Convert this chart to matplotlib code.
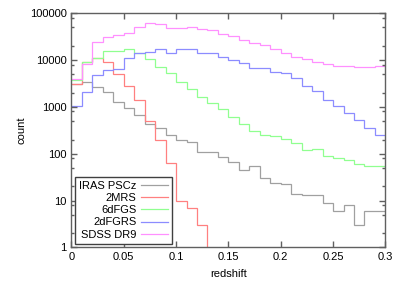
import numpy as np
import matplotlib
matplotlib.use('Agg')
import matplotlib.pyplot as plt
from matplotlib.ticker import LogLocator, FixedLocator, NullFormatter

plt.rcParams['font.family'] = ['Liberation Sans', 'DejaVu Sans']
plt.rcParams['font.size'] = 8

# redshift bins of width 0.01
bin_edges = np.linspace(0, 0.3, 31)

# counts per bin
iras_pscz = [3050, 3450, 2700, 2100, 1300, 930, 670, 430, 350, 245,
             200, 181, 110, 110, 85, 68, 45, 56, 31, 24,
             23, 14, 13, 13, 9, 6, 8, 3, 6, 6]
twomrs = [3050, 9200, 11300, 9300, 5000, 2800, 1380, 505, 195, 63,
          10, 7, 3, 0, 0, 0, 0, 0, 0, 0,
          0, 0, 0, 0, 0, 0, 0, 0, 0, 0]
sixdfgs = [3700, 9200, 11300, 15900, 15400, 17600, 14000, 10400, 7000, 5200,
           3470, 2380, 1660, 1240, 918, 617, 431, 310, 251, 235,
           205, 167, 120, 124, 90, 80, 72, 60, 56, 54]
twodfgrs = [1070, 2100, 4800, 6200, 6300, 11300, 14000, 14600, 16800, 13800,
            17500, 17000, 14000, 13800, 11500, 10000, 8500, 6700, 6700, 5600,
            5200, 4090, 2800, 2220, 1400, 1045, 730, 525, 360, 245]
sdss_dr9 = [4000, 8260, 24800, 30400, 34400, 38500, 50000, 61000, 58200, 47800,
            47800, 50000, 45500, 43000, 36500, 32700, 26900, 23600, 21000, 17000,
            13960, 11800, 10400, 9250, 8120, 7480, 7480, 7010, 7010, 7480]

labels = ['IRAS PSCz', '2MRS', '6dFGS', '2dFGRS', 'SDSS DR9']
colors = ['#a0a0a0', '#ff8080', '#90ff90', '#8c8cff', '#ff90ff']
series = [iras_pscz, twomrs, sixdfgs, twodfgrs, sdss_dr9]

fig = plt.figure(figsize=(3.99, 2.87), dpi=100)
ax = fig.add_axes([0.179, 0.138, 0.787, 0.816])

for vals, lab, col in zip(series, labels, colors):
    ax.stairs(vals, bin_edges, baseline=None, color=col, linewidth=0.9, label=lab)

ax.set_yscale('log')
ax.set_xlim(0, 0.3)
ax.set_ylim(1, 100000)
ax.set_xticks([0, 0.05, 0.1, 0.15, 0.2, 0.25, 0.3])
ax.set_xticklabels(['0', '0.05', '0.1', '0.15', '0.2', '0.25', '0.3'])
ax.yaxis.set_major_locator(FixedLocator([1, 10, 100, 1000, 10000, 100000]))
ax.set_yticklabels(['1', '10', '100', '1000', '10000', '100000'])
ax.yaxis.set_minor_locator(LogLocator(base=10, subs=[2, 5, 8]))
ax.yaxis.set_minor_formatter(NullFormatter())

ax.tick_params(which='both', direction='in', top=True, right=True,
               color='#606060', labelcolor='black')
ax.tick_params(which='major', length=4, width=1)
ax.tick_params(which='minor', length=2, width=1)
for s in ax.spines.values():
    s.set_color('#606060')
    s.set_linewidth(1)

ax.set_xlabel('redshift', labelpad=5)
ax.set_ylabel('count', labelpad=2)

leg = ax.legend(loc='lower left', markerfirst=False, fancybox=False,
                edgecolor='#404040', framealpha=1, borderaxespad=0.35,
                handlelength=2.4, handletextpad=0.4, labelspacing=0.2,
                borderpad=0.35, fontsize=8)
leg.get_frame().set_linewidth(1)

fig.savefig('out.png', dpi=100)
